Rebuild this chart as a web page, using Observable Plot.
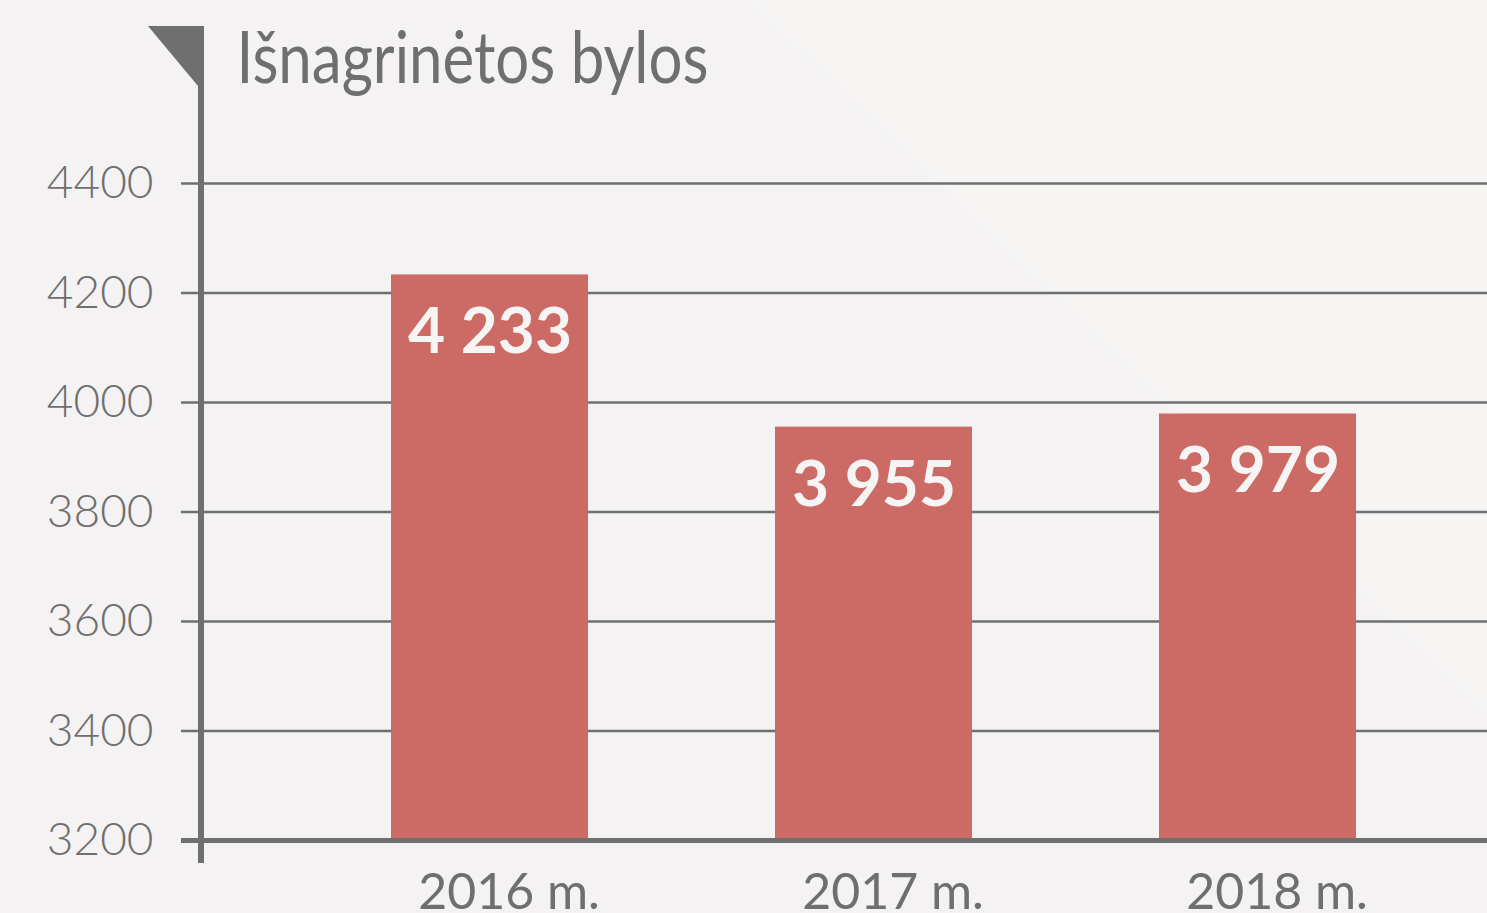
<!DOCTYPE html>
<html>
<head>
<meta charset="utf-8">
<script src="https://cdn.jsdelivr.net/npm/d3@7"></script>
<script src="https://cdn.jsdelivr.net/npm/@observablehq/plot@0.6"></script>
<style>
  html, body { margin: 0; padding: 0; }
  body {
    width: 1487px; height: 913px; overflow: hidden;
    background: linear-gradient(44deg, #f4f2f3 0%, #f4f2f3 69.5%, #f6f5f4 69.8%, #f6f5f4 100%);
  }
  #chart { position: relative; width: 1487px; height: 913px; }
</style>
</head>
<body>
<div id="chart"></div>
<script>
const title = "Išnagrinėtos bylos";
const years = ["2016 m.", "2017 m.", "2018 m."];
const values = [4233, 3955, 3979];
const valueLabels = ["4 233", "3 955", "3 979"];
const yTicks = [3200, 3400, 3600, 3800, 4000, 4200, 4400];

const data = years.map((year, i) => ({year, value: values[i], label: valueLabels[i]}));
const gray = "#6f6f6f";

const plot = Plot.plot({
  width: 1487,
  height: 913,
  marginLeft: 201,
  marginRight: 0,
  marginTop: 183,
  marginBottom: 73,
  style: {background: "transparent", fontFamily: "Lato, 'Open Sans', sans-serif", color: gray, overflow: "visible"},
  x: {domain: years, paddingInner: 0.488, paddingOuter: 0.4165, align: 0.59, axis: null},
  y: {domain: [3200, 4400], axis: null},
  marks: [
    Plot.ruleY(yTicks.slice(1), {stroke: gray, strokeWidth: 2.5, insetLeft: -20}),
    Plot.axisY({ticks: yTicks, label: null, tickSize: 0, tickPadding: 48, fontSize: 46, fontWeight: 300, fill: gray, tickFormat: d => String(d)}),
    Plot.barY(data, {x: "year", y1: 3200, y2: "value", fill: "#cc6a66"}),
    Plot.ruleY([3200], {stroke: gray, strokeWidth: 5, insetLeft: -20}),
    Plot.text(data, {x: "year", y: "value", text: "label", dy: 58, fill: "#f7f4f4", fontSize: 64, fontWeight: "bold"}),
    Plot.text(data, {x: "year", text: "year", frameAnchor: "bottom", dy: 68, dx: 19, fill: gray, fontSize: 50, fontWeight: 400}),
    Plot.text([title], {frameAnchor: "top-left", dx: 35, dy: -101, lineAnchor: "bottom", textAnchor: "start", fill: gray, fontSize: 72, fontWeight: 400, className: "chart-title"})
  ]
});

// squeeze the title to the reference's narrower letterforms
d3.select(plot).selectAll(".chart-title text")
  .attr("textLength", 472)
  .attr("lengthAdjust", "spacingAndGlyphs");

// vertical axis line with the flag triangle at its top
const svg = d3.select(plot);
const x0 = 201;
svg.append("line")
  .attr("x1", x0).attr("x2", x0)
  .attr("y1", 28).attr("y2", 863)
  .attr("stroke", gray).attr("stroke-width", 6);
svg.append("polygon")
  .attr("points", `148,26 ${x0 + 3},26 ${x0 + 3},86 ${x0 - 3},86`)
  .attr("fill", gray);

document.getElementById("chart").appendChild(plot);
</script>
</body>
</html>
